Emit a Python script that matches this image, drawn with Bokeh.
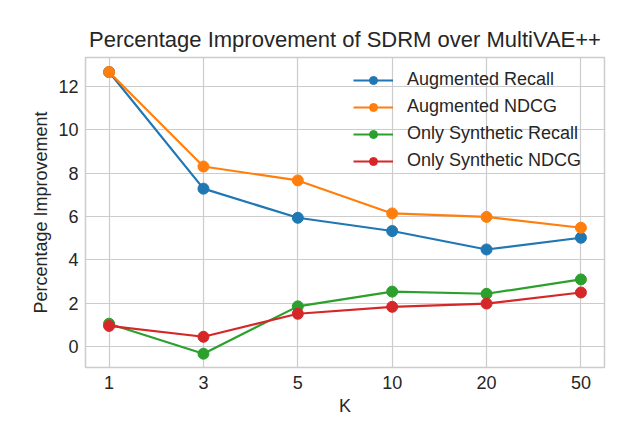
from bokeh.plotting import figure
from bokeh.models import Range1d, FixedTicker, Legend, LegendItem
from bokeh.embed import file_html
from bokeh.resources import INLINE

k_labels = ["1", "3", "5", "10", "20", "50"]
aug_recall = [12.65, 7.28, 5.94, 5.33, 4.48, 5.02]
aug_ndcg = [12.65, 8.30, 7.66, 6.14, 5.98, 5.48]
syn_recall = [1.06, -0.32, 1.86, 2.54, 2.44, 3.10]
syn_ndcg = [0.96, 0.46, 1.52, 1.84, 1.99, 2.50]
series_names = ["Augmented Recall", "Augmented NDCG", "Only Synthetic Recall", "Only Synthetic NDCG"]
colors = ["#1f77b4", "#ff7f0e", "#2ca02c", "#d62728"]
y_ticks = [0, 2, 4, 6, 8, 10, 12]

FONT = "Liberation Sans"
TXT = "#262626"

xs = list(range(len(k_labels)))

p = figure(width=608, height=428, output_backend="svg", toolbar_location=None,
           x_range=Range1d(-0.25, 5.25), y_range=Range1d(-0.955, 13.32),
           min_border_left=85, min_border_right=4, min_border_top=57, min_border_bottom=61,
           title="Percentage Improvement of SDRM over MultiVAE++")
p.background_fill_color = "white"
p.border_fill_color = "white"
p.outline_line_color = "#cccccc"
p.outline_line_width = 1.5

p.title.align = "center"
p.title.text_font = FONT
p.title.text_font_size = "22px"
p.title.text_font_style = "normal"
p.title.text_color = TXT
p.title.standoff = 11

p.xaxis.ticker = FixedTicker(ticks=xs)
p.xaxis.major_label_overrides = {i: k for i, k in enumerate(k_labels)}
p.yaxis.ticker = FixedTicker(ticks=y_ticks)
p.xaxis.axis_label = "K"
p.yaxis.axis_label = "Percentage Improvement"
for ax in (p.xaxis[0], p.yaxis[0]):
    ax.axis_line_color = None
    ax.major_tick_line_color = None
    ax.minor_tick_line_color = None
    ax.major_tick_out = 0
    ax.major_tick_in = 0
    ax.major_label_text_font = FONT
    ax.major_label_text_font_size = "18px"
    ax.major_label_text_color = TXT
    ax.axis_label_text_font = FONT
    ax.axis_label_text_font_size = "18px"
    ax.axis_label_text_font_style = "normal"
    ax.axis_label_text_color = TXT
p.xaxis.major_label_standoff = 8
p.yaxis.major_label_standoff = 7
p.xaxis.axis_label_standoff = 4
p.yaxis.axis_label_standoff = 4

p.xgrid.ticker = FixedTicker(ticks=xs)
p.ygrid.ticker = FixedTicker(ticks=y_ticks)
for g in (p.xgrid[0], p.ygrid[0]):
    g.grid_line_color = "#cccccc"
    g.grid_line_width = 1.2

items = []
for name, vals, c in zip(series_names, [aug_recall, aug_ndcg, syn_recall, syn_ndcg], colors):
    r1 = p.line(xs, vals, line_color=c, line_width=2.2)
    r2 = p.scatter(xs, vals, size=11, fill_color=c, line_color=c)
    items.append(LegendItem(label=name, renderers=[r1, r2]))

legend = Legend(items=items, location=(268, 196), orientation="vertical",
                background_fill_alpha=0, border_line_alpha=0,
                padding=0, margin=0, spacing=6,
                glyph_width=40, glyph_height=20, label_height=20,
                label_standoff=14,
                label_text_font=FONT, label_text_font_size="18px", label_text_color=TXT)
p.add_layout(legend, "center")

open("out.html", "w").write(file_html(p, INLINE))
